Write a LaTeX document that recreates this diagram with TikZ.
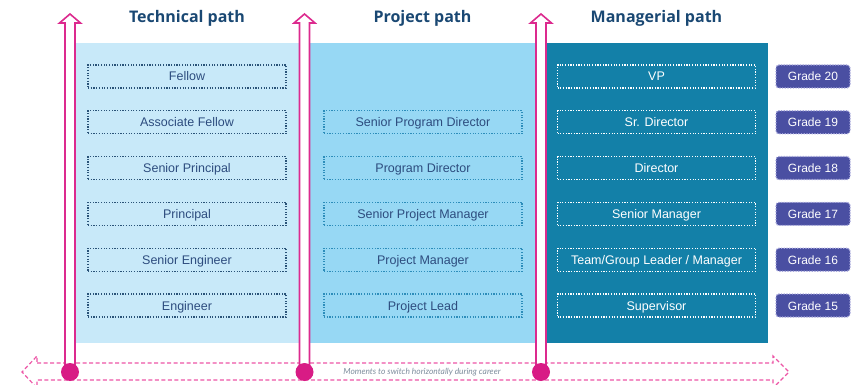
\documentclass[tikz,border=0pt]{standalone}
\usepackage{fontspec}
\setmainfont{Liberation Sans}
\newfontfamily\titlefont{Open Sans}
\newfontfamily\notefont{Lato}
\usetikzlibrary{positioning}
\definecolor{techfill}{HTML}{C8E9F9}
\definecolor{projfill}{HTML}{97D8F4}
\definecolor{mgrfill}{HTML}{1380A8}
\definecolor{pathpink}{HTML}{DC2A8E}
\definecolor{dashpink}{HTML}{EC55A6}
\definecolor{dotpink}{HTML}{D81B85}
\definecolor{gradefill}{HTML}{4A4FA2}
\definecolor{gradeline}{HTML}{A4A5DC}
\definecolor{titleblue}{HTML}{1A4873}
\definecolor{boxtext}{HTML}{2D4C7E}
\definecolor{techdot}{HTML}{2A5378}
\definecolor{projdot}{HTML}{2C8DBA}
\definecolor{notegray}{HTML}{7C8C9C}
\tikzstyle{rolebox}=[minimum width=198pt, minimum height=23pt, inner sep=0, text height=9pt, text depth=0pt, font=\fontsize{12.5}{14}\selectfont, line width=1.2pt, dash pattern=on 1.2pt off 1.5pt]
\tikzstyle{techbox}=[rolebox, draw=techdot, text=boxtext]
\tikzstyle{projbox}=[rolebox, draw=projdot, text=boxtext]
\tikzstyle{mgrbox}=[rolebox, draw=white, text=white]
\tikzstyle{gradebox}=[rolebox, minimum width=74pt, rounded corners=3pt, fill=gradefill, draw=gradeline, text=white, font=\fontsize{12}{14}\selectfont]
\tikzstyle{pathtitle}=[anchor=base, text=titleblue, font=\titlefont\bfseries\fontsize{16}{18}\selectfont]
\tikzstyle{patharrow}=[draw=pathpink, fill=white, line width=1.6pt, line join=miter]
\tikzstyle{pathdot}=[circle, fill=dotpink, minimum size=18pt, inner sep=0]

\begin{document}
\begin{tikzpicture}[x=1pt, y=-1pt]
    \useasboundingbox (0,0) rectangle (863,385);

    % columns
    \fill[techfill] (75,43.5) rectangle (305,343);
    \fill[projfill] (305,43.5) rectangle (541,343);
    \fill[mgrfill] (541,43.5) rectangle (768,343);

    \node[pathtitle] (tech) at (187,23) {Technical path};
    \node[pathtitle] (proj) at (422.5,23) {Project path};
    \node[pathtitle] (mgr) at (656.5,23) {Managerial path};

    \foreach \name [count=\i from 0] in {Fellow, Associate Fellow, Senior Principal, Principal, Senior Engineer, Engineer}
        \node[techbox] (t\i) at (187,{76.5+45.8*\i}) {\name};

    \foreach \name [count=\i from 1] in {Senior Program Director, Program Director, Senior Project Manager, Project Manager, Project Lead}
        \node[projbox] (p\i) at (423,{76.5+45.8*\i}) {\name};

    \foreach \name [count=\i from 0] in {VP, Sr. Director, Director, Senior Manager, Team/Group Leader / Manager, Supervisor}
        \node[mgrbox] (m\i) at (656.5,{76.5+45.8*\i}) {\name};

    \foreach \g [count=\i from 0] in {20,19,18,17,16,15}
        \node[gradebox] (g\i) at (813,{76.5+45.8*\i}) {Grade \g};

    % switching between paths
    \draw[dashpink, line width=1.2pt, dash pattern=on 4pt off 2.5pt] (37,363) -- (773,363) -- (773,356) -- (789,372) -- (773,388) -- (773,380) -- (37,380) -- (37,388) -- (22,372) -- (37,356) -- cycle;
    \node[text=notegray, font=\notefont\itshape\fontsize{8.4}{9}\selectfont] (note) at (422,372) {Moments to switch horizontally during career};

    \foreach \x [count=\i] in {70,304.5,541} {
        \draw[patharrow] ({\x-5},372) -- ({\x-5},23) -- ({\x-10.5},23) -- (\x,14) -- ({\x+10.5},23) -- ({\x+5},23) -- ({\x+5},372);
        \node[pathdot] (d\i) at (\x,372) {};
    }
\end{tikzpicture}
\end{document}
